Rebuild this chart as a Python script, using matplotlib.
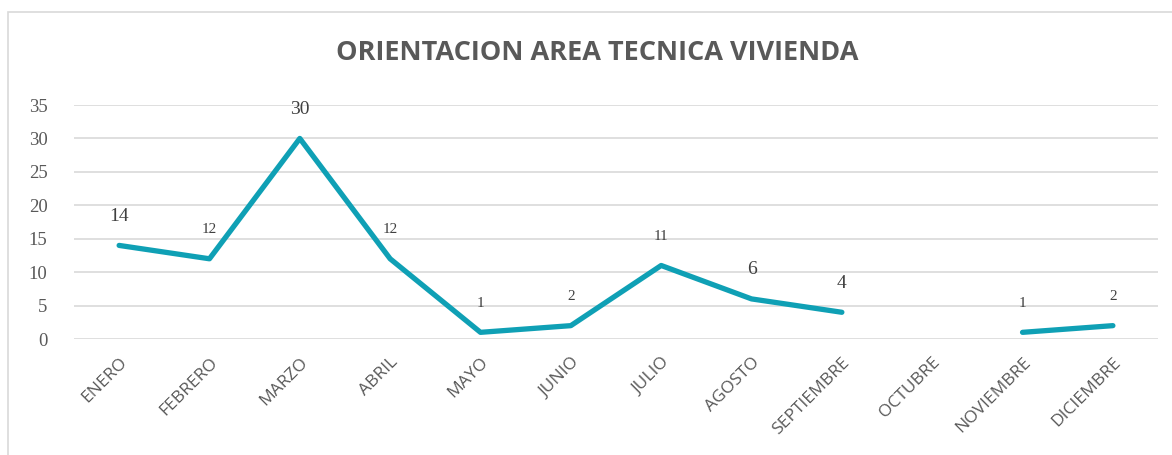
import matplotlib.pyplot as plt
import matplotlib.patches as mpatches
import numpy as np

months = ['ENERO', 'FEBRERO', 'MARZO', 'ABRIL', 'MAYO', 'JUNIO', 'JULIO',
          'AGOSTO', 'SEPTIEMBRE', 'OCTUBRE', 'NOVIEMBRE', 'DICIEMBRE']
values = [14, 12, 30, 12, 1, 2, 11, 6, 4, np.nan, 1, 2]
# label sizes differ in the original
label_sizes = [14, 11, 14, 11, 11, 11, 11, 14, 14, None, 11, 11]

line_color = '#0fa0b5'
grey = '#595959'

fig = plt.figure(figsize=(11.72, 4.55), dpi=100)
ax = fig.add_axes([0.0631, 0.2549, 0.925, 0.5143])

x = np.arange(len(months))
ax.plot(x, values, color=line_color, lw=3.8, solid_capstyle='round', solid_joinstyle='round')

for xi, v, s in zip(x, values, label_sizes):
    if np.isnan(v):
        continue
    ax.annotate(f'{int(v)}', (xi, v), xytext=(0, 21), textcoords='offset points',
                ha='center', va='center', fontsize=s, color='#404040',
                family='Liberation Serif')

ax.set_xlim(-0.5, len(months) - 0.5)
ax.set_ylim(0, 35)
ax.set_yticks(range(0, 36, 5))
ax.grid(axis='y', color='#d9d9d9', lw=1.2)
ax.set_axisbelow(True)
for sp in ax.spines.values():
    sp.set_visible(False)
ax.tick_params(length=0)
ax.tick_params(axis='y', pad=19, labelsize=13.5, labelcolor=grey)
for t in ax.get_yticklabels():
    t.set_family('Liberation Serif')

ax.set_xticks(x)
ax.set_xticklabels(months, rotation=45, ha='right', rotation_mode='anchor',
                   fontsize=12.5, color=grey, family='Open Sans')
ax.tick_params(axis='x', pad=11)

fig.text(0.51, 0.884, 'ORIENTACION AREA TECNICA VIVIENDA', ha='center', va='center',
         fontsize=19.5, fontweight='bold', color=grey, family='Open Sans')

# chart border
fig.patches.append(mpatches.Rectangle((8 / 1172, -0.1), 1.2, 1 - 12 / 455 + 0.1,
                                      transform=fig.transFigure, fill=False,
                                      edgecolor='#d9d9d9', lw=1.2))

fig.savefig('out.png', dpi=100)
